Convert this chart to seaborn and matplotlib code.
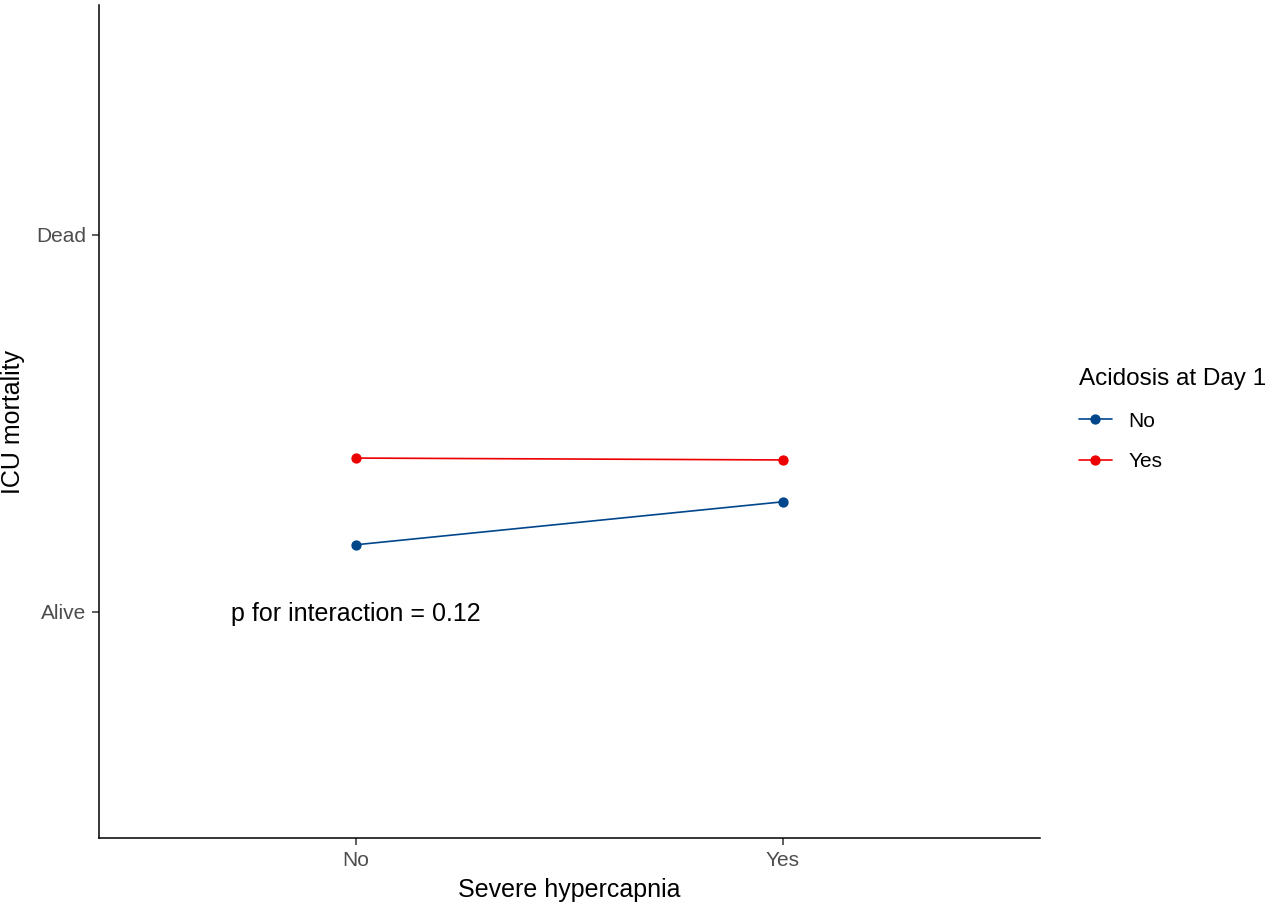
import matplotlib
matplotlib.use("Agg")
import matplotlib.pyplot as plt
import seaborn as sns
import pandas as pd

# Data
hypercapnia = ["No", "Yes"]
acidosis_levels = ["No", "Yes"]
mortality_acidosis_no = [1.178, 1.292]
mortality_acidosis_yes = [1.408, 1.403]
y_tick_values = [1, 2]
y_tick_labels = ["Alive", "Dead"]
colors = ["#00468B", "#ED0000"]

df = pd.DataFrame({
    "Severe hypercapnia": hypercapnia * 2,
    "ICU mortality": mortality_acidosis_no + mortality_acidosis_yes,
    "Acidosis at Day 1": [acidosis_levels[0]] * 2 + [acidosis_levels[1]] * 2,
})

sns.set_theme(style="ticks")
plt.rcParams["font.family"] = ["Liberation Sans", "DejaVu Sans"]

fig = plt.figure(figsize=(12.71, 9.07), dpi=100)
ax = fig.add_axes([99 / 1271, 1 - 838 / 907, (1040 - 99) / 1271, (838 - 5) / 907])

sns.pointplot(data=df, x="Severe hypercapnia", y="ICU mortality", hue="Acidosis at Day 1",
              hue_order=acidosis_levels, order=hypercapnia, palette=colors,
              errorbar=None, markers="o", markersize=6.5, linewidth=1.2, ax=ax)

ax.set_xlim(-0.602, 1.602)
ax.set_ylim(0.40, 2.61)
ax.set_yticks(y_tick_values)
ax.set_yticklabels(y_tick_labels)

for side in ["top", "right"]:
    ax.spines[side].set_visible(False)
for side in ["left", "bottom"]:
    ax.spines[side].set_color("black")
    ax.spines[side].set_linewidth(1.1)

ax.tick_params(axis="both", colors="#333333", labelcolor="#4D4D4D", labelsize=15,
               length=5, width=1.1, pad=4)
ax.set_xlabel("Severe hypercapnia", fontsize=18, color="black", labelpad=6)
ax.set_ylabel("ICU mortality", fontsize=18, color="black", labelpad=8)

ax.text(0, 0.995, "p for interaction = 0.12", ha="center", va="center", fontsize=18, color="black")

ax.get_legend().remove()
handles, labels = ax.get_legend_handles_labels()
leg = fig.legend(handles, labels, title="Acidosis at Day 1", loc="upper left",
                 bbox_to_anchor=(1060 / 1271, 1 - 349 / 907), frameon=False,
                 fontsize=15, title_fontsize=17.5, handlelength=1.6, handletextpad=0.8,
                 labelspacing=1.05, alignment="left")
leg.get_title().set_color("black")
for t in leg.get_texts():
    t.set_color("black")

fig.savefig("out.png", dpi=100)
